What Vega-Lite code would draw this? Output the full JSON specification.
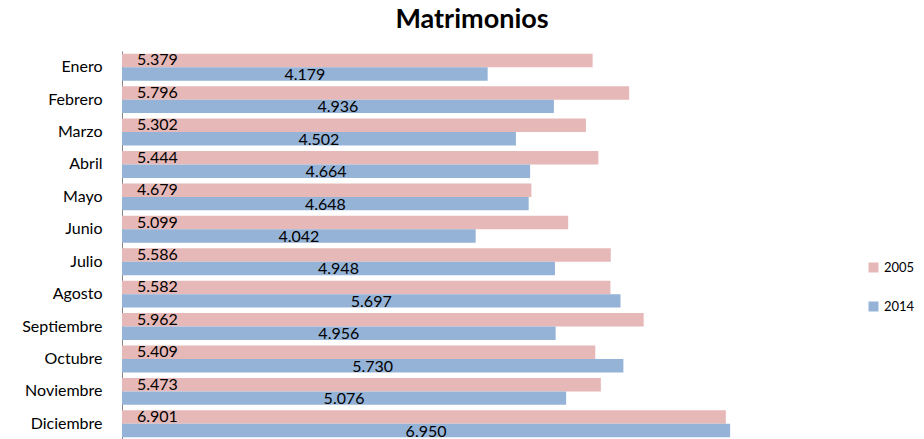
{
  "$schema": "https://vega.github.io/schema/vega-lite/v6.json",
  "autosize": {"type": "none"},
  "width": 700,
  "height": 389,
  "padding": {"left": 122, "top": 51, "right": 102, "bottom": 0},
  "title": {"text": "Matrimonios", "font": "Lato", "fontSize": 27, "fontWeight": "bold", "color": "#000", "anchor": "middle", "offset": 17},
  "config": {
    "view": {"stroke": null},
    "locale": {"number": {"decimal": ",", "thousands": ".", "grouping": [3], "currency": ["", " €"]}}
  },
  "data": {"values": [
    {"mes": "Enero", "anio": "2005", "valor": 5379}, {"mes": "Enero", "anio": "2014", "valor": 4179},
    {"mes": "Febrero", "anio": "2005", "valor": 5796}, {"mes": "Febrero", "anio": "2014", "valor": 4936},
    {"mes": "Marzo", "anio": "2005", "valor": 5302}, {"mes": "Marzo", "anio": "2014", "valor": 4502},
    {"mes": "Abril", "anio": "2005", "valor": 5444}, {"mes": "Abril", "anio": "2014", "valor": 4664},
    {"mes": "Mayo", "anio": "2005", "valor": 4679}, {"mes": "Mayo", "anio": "2014", "valor": 4648},
    {"mes": "Junio", "anio": "2005", "valor": 5099}, {"mes": "Junio", "anio": "2014", "valor": 4042},
    {"mes": "Julio", "anio": "2005", "valor": 5586}, {"mes": "Julio", "anio": "2014", "valor": 4948},
    {"mes": "Agosto", "anio": "2005", "valor": 5582}, {"mes": "Agosto", "anio": "2014", "valor": 5697},
    {"mes": "Septiembre", "anio": "2005", "valor": 5962}, {"mes": "Septiembre", "anio": "2014", "valor": 4956},
    {"mes": "Octubre", "anio": "2005", "valor": 5409}, {"mes": "Octubre", "anio": "2014", "valor": 5730},
    {"mes": "Noviembre", "anio": "2005", "valor": 5473}, {"mes": "Noviembre", "anio": "2014", "valor": 5076},
    {"mes": "Diciembre", "anio": "2005", "valor": 6901}, {"mes": "Diciembre", "anio": "2014", "valor": 6950}
  ]},
  "encoding": {
    "y": {"field": "mes", "type": "nominal", "sort": null,
      "scale": {"paddingInner": 0.17, "paddingOuter": 0.085},
      "axis": {"title": null, "ticks": false, "domainColor": "#868686", "labelFont": "Lato", "labelFontSize": 16, "labelFontWeight": "normal", "labelColor": "#000", "labelPadding": 20}},
    "yOffset": {"field": "anio", "type": "nominal", "sort": ["2005", "2014"], "scale": {"paddingInner": 0, "paddingOuter": 0}}
  },
  "layer": [
    {
      "mark": {"type": "bar"},
      "encoding": {
        "x": {"field": "valor", "type": "quantitative", "scale": {"domain": [0, 8000]}, "axis": null},
        "color": {"field": "anio", "type": "nominal", "title": null,
          "scale": {"domain": ["2005", "2014"], "range": ["#E6B9B8", "#95B3D7"]},
          "legend": {"orient": "none", "legendX": 745, "legendY": 210, "symbolType": "square", "symbolSize": 100, "symbolStrokeWidth": 0, "labelFont": "Lato", "labelFontSize": 13, "labelColor": "#000", "rowPadding": 25, "labelOffset": 4}}
      }
    },
    {
      "transform": [{"filter": "datum.anio == '2005'"}],
      "mark": {"type": "text", "align": "left", "baseline": "middle", "dx": 15, "dy": 0, "font": "Lato", "fontSize": 16, "color": "#000"},
      "encoding": {
        "x": {"datum": 0, "type": "quantitative"},
        "text": {"field": "valor", "type": "quantitative", "format": ",d"}
      }
    },
    {
      "transform": [{"filter": "datum.anio == '2014'"}, {"calculate": "datum.valor / 2", "as": "mitad"}],
      "mark": {"type": "text", "align": "center", "baseline": "middle", "dy": 1, "font": "Lato", "fontSize": 16, "color": "#000"},
      "encoding": {
        "x": {"field": "mitad", "type": "quantitative"},
        "text": {"field": "valor", "type": "quantitative", "format": ",d"}
      }
    }
  ]
}
